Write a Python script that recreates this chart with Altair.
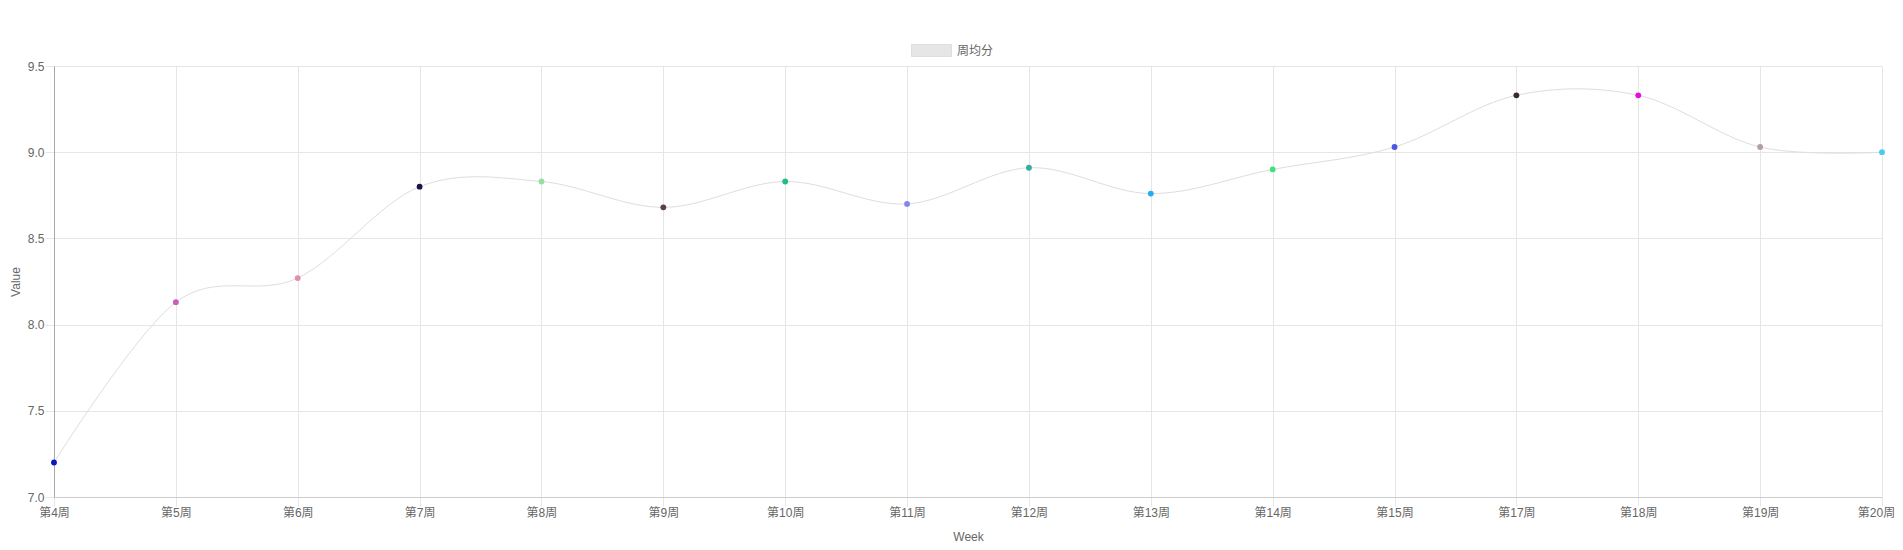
import altair as alt
import pandas as pd

weeks = ["第4周", "第5周", "第6周", "第7周", "第8周", "第9周", "第10周", "第11周",
         "第12周", "第13周", "第14周", "第15周", "第17周", "第18周", "第19周", "第20周"]
values = [7.2, 8.13, 8.27, 8.8, 8.83, 8.68, 8.83, 8.7, 8.91, 8.76, 8.9, 9.03, 9.33, 9.33, 9.03, 9.0]
point_colors = ["#0a1ac0", "#c65fc0", "#e08fa6", "#1a1448", "#98e0a0", "#5a4048", "#22c080", "#8088f0",
                "#30b0a0", "#20b0f0", "#40e080", "#4a5ae0", "#3a2a30", "#e010e0", "#b0a0a0", "#40d0f0"]
series_name = "周均分"
y_ticks = [7.0, 7.5, 8.0, 8.5, 9.0, 9.5]

df = pd.DataFrame({"week": weeks, "value": values, "pc": point_colors, "series": series_name})

FONT = "Liberation Sans, Arial, Noto Sans CJK SC, sans-serif"
W, H = 1828, 431
last_week = weeks[-1]

x_enc = alt.X("week:N", sort=weeks, scale=alt.Scale(type="point", padding=0),
              axis=alt.Axis(title="Week", labelAngle=0, grid=True, gridColor="#e6e6e6",
                            tickColor="#e6e6e6", tickSize=9, labelPadding=1,
                            labelOffset={"condition": {"test": f"datum.value === '{last_week}'", "value": -6},
                                         "value": 0},
                            domainColor="#cccccc", labelColor="#666666", labelFontSize=12,
                            titleColor="#666666", titleFontSize=12, titleFontWeight="normal",
                            titleX=914, titleY=39, titleBaseline="middle", labelFont=FONT, titleFont=FONT))
y_enc = alt.Y("value:Q", scale=alt.Scale(domain=[7.0, 9.5], nice=False, zero=False),
              axis=alt.Axis(title="Value", values=y_ticks, format=".1f", grid=True, gridColor="#e6e6e6",
                            tickColor="#e6e6e6", tickSize=9, labelPadding=1,
                            domainColor="#a8a8a8", labelColor="#666666", labelFontSize=12,
                            titleColor="#666666", titleFontSize=12, titleFontWeight="normal",
                            titleX=-39, titleY=215.5, titleBaseline="middle", titleAngle=-90,
                            labelFont=FONT, titleFont=FONT))

line = alt.Chart(df).mark_line(interpolate="cardinal", strokeWidth=1).encode(
    x=x_enc, y=y_enc,
    color=alt.Color("series:N", scale=alt.Scale(domain=[series_name], range=["#dedede"]),
                    legend=alt.Legend(title=None, orient="none", legendX=857, legendY=-36,
                                      symbolType="M-1,-0.3H1V0.3H-1Z", symbolSize=1600,
                                      symbolFillColor="#e6e6e6", symbolStrokeWidth=1,
                                      labelOffset=5, labelFontSize=12, labelColor="#666666",
                                      labelFont=FONT))
)

points = alt.Chart(df).mark_circle(size=34, opacity=1).encode(
    x=alt.X("week:N", sort=weeks),
    y="value:Q",
    color=alt.Color("pc:N", scale=None),
)

chart = alt.layer(line, points).properties(
    width=W, height=H,
    autosize=alt.AutoSizeParams(type="none"),
    padding={"left": 46, "top": 58, "right": 13, "bottom": 45},
).configure_view(stroke=None)

chart.save("out.html", embed_options={"renderer": "svg", "actions": False})
